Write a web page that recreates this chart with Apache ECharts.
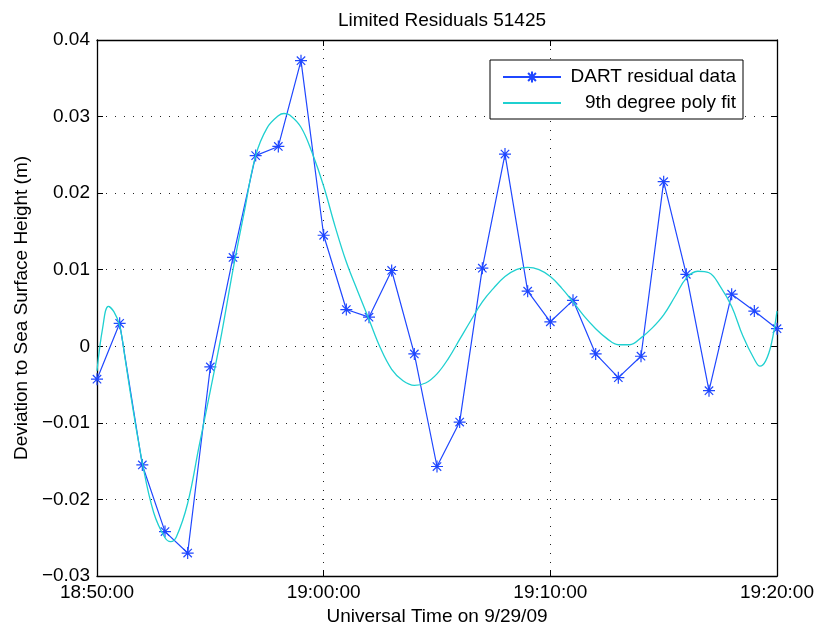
<!DOCTYPE html>
<html>
<head>
<meta charset="utf-8">
<title>Limited Residuals 51425</title>
<script src="https://cdn.jsdelivr.net/npm/echarts@6/dist/echarts.min.js"></script>
<style>
  html, body { margin: 0; padding: 0; background: #fff; }
  #chart { width: 815px; height: 628px; }
</style>
</head>
<body>
<div id="chart"></div>
<script>
// DART buoy 51425 residuals (m), one reading per minute, 29 Sep 2009 UTC
const dartTimes = [
  '18:50','18:51','18:52','18:53','18:54','18:55','18:56','18:57','18:58','18:59',
  '19:00','19:01','19:02','19:03','19:04','19:05','19:06','19:07','19:08','19:09',
  '19:10','19:11','19:12','19:13','19:14','19:15','19:16','19:17','19:18','19:19',
  '19:20'
];
const dartResiduals = [
  -0.0043, 0.0030, -0.0155, -0.0242, -0.0270, -0.0027, 0.0116, 0.0249, 0.0261, 0.0373,
   0.0145, 0.0048, 0.0038, 0.0099, -0.0010, -0.0157, -0.0099, 0.0102, 0.0251, 0.0072,
   0.0032, 0.0060, -0.0010, -0.0041, -0.0013, 0.0215, 0.0094, -0.0058, 0.0068, 0.0046,
   0.0023
];

// 9th degree polynomial fit, sampled in minutes after 18:50
const fitMinutes = [
  0, 0.25, 0.5, 0.75, 1, 1.25, 1.5, 2, 2.5, 3, 3.25, 3.5,
  4, 4.5, 5, 5.5, 6, 6.5, 7, 7.5, 8, 8.25, 8.5,
  9, 9.5, 10, 10.5, 11, 11.5, 12, 12.5, 13, 13.5, 14, 14.5,
  15, 15.5, 16, 16.5, 17, 17.5, 18, 18.5, 19, 19.5, 20, 20.5,
  21, 21.5, 22, 22.5, 23, 23.5, 24, 24.5, 25, 25.5, 26, 26.5,
  27, 27.5, 28, 28.5, 29, 29.25, 29.5, 29.75, 30
];
const fitValues = [
  -0.0032, 0.0024, 0.0052, 0.0045, 0.0027, -0.0018, -0.0066, -0.0152, -0.0217, -0.0250, -0.0255, -0.0249,
  -0.0205, -0.0131, -0.0058, 0.0017, 0.0100, 0.0176, 0.0249, 0.0285, 0.0301, 0.0304, 0.0302,
   0.0286, 0.0252, 0.0209, 0.0157, 0.0110, 0.0072, 0.0035, -0.0002, -0.0030, -0.0045, -0.0051, -0.0048,
  -0.0036, -0.0016, 0.0009, 0.0034, 0.0058, 0.0076, 0.0091, 0.0100, 0.0103, 0.0100, 0.0091, 0.0076,
   0.0058, 0.0039, 0.0023, 0.0010, 0.0002, 0.0002, 0.0011, 0.0024, 0.0041, 0.0065, 0.0089, 0.0098,
   0.0096, 0.0078, 0.0052, 0.0013, -0.0017, -0.0026, -0.0019, 0.0003, 0.0046
];

const xTickLabels = ['18:50:00', '19:00:00', '19:10:00', '19:20:00'];
const yTickLabels = ['\u22120.03', '\u22120.02', '\u22120.01', '0', '0.01', '0.02', '0.03', '0.04'];

const X_MIN = 0, X_MAX = 30, X_STEP = 10;
const Y_MIN = -0.03, Y_MAX = 0.04, Y_STEP = 0.01;
const FONT = '"Liberation Sans", Arial, Helvetica, sans-serif';
const BLUE = '#1f47ff';
const CYAN = '#1fd0d0';
const NONE = 'rgba(0,0,0,0)';

// minutes elapsed since the first reading
function minutesOf(hhmm) {
  const [h, m] = hhmm.split(':').map(Number);
  const [h0, m0] = dartTimes[0].split(':').map(Number);
  return (h * 60 + m) - (h0 * 60 + m0);
}

const dartData = dartTimes.map((t, i) => [minutesOf(t), dartResiduals[i]]);
const fitData = fitMinutes.map((m, i) => [m, fitValues[i]]);

// eight-spoke asterisk marker
const asterisk = 'path://M0,6L12,6M6,0L6,12M1.8,1.8L10.2,10.2M10.2,1.8L1.8,10.2';

const dotted = { color: '#222', type: [1, 8], width: 1 };
const frameLine = { show: true, onZero: false, lineStyle: { color: '#000', width: 1.3 } };
const innerTick = { show: true, inside: true, length: 6, lineStyle: { color: '#000', width: 1 } };

const chart = echarts.init(document.getElementById('chart'), null, { renderer: 'canvas' });

chart.setOption({
  animation: false,
  backgroundColor: '#fff',
  textStyle: { fontFamily: FONT },
  title: {
    text: 'Limited Residuals 51425',
    left: 437,
    top: 6,
    textAlign: 'center',
    textStyle: { fontSize: 19, fontWeight: 'normal', color: '#000', fontFamily: FONT }
  },
  grid: {
    left: 97, right: 38, top: 40, bottom: 52,
    containLabel: false,
    outerBoundsMode: 'none'
  },
  legend: {
    left: 490,
    top: 60,
    orient: 'vertical',
    padding: [7, 7, 6, 12],
    itemGap: 6,
    itemWidth: 58,
    itemHeight: 14,
    borderColor: '#000',
    borderWidth: 1,
    borderRadius: 0,
    backgroundColor: '#fff',
    selectedMode: false,
    formatter: name => '{t|' + name + '}',
    textStyle: {
      fontSize: 19, color: '#000', fontFamily: FONT, lineHeight: 20,
      rich: { t: { width: 170, align: 'right', fontSize: 19, lineHeight: 20, fontFamily: FONT, color: '#000' } }
    },
    data: [
      { name: 'DART residual data' },
      // the fit is a plain line: hide the marker in its legend entry
      { name: '9th degree poly fit', itemStyle: { color: NONE, borderColor: NONE, borderWidth: 0 } }
    ]
  },
  xAxis: [
    {
      type: 'value', min: X_MIN, max: X_MAX, interval: X_STEP, position: 'bottom',
      axisLine: frameLine, axisTick: innerTick,
      axisLabel: {
        margin: 7, fontSize: 19, color: '#000', fontFamily: FONT,
        formatter: v => xTickLabels[Math.round((v - X_MIN) / X_STEP)]
      },
      splitLine: { show: true, lineStyle: dotted },
      name: 'Universal Time on 9/29/09',
      nameLocation: 'middle',
      nameGap: 30,
      nameTextStyle: { fontSize: 19, color: '#000', fontFamily: FONT }
    },
    {
      type: 'value', min: X_MIN, max: X_MAX, interval: X_STEP, position: 'top',
      axisLine: frameLine, axisTick: innerTick,
      axisLabel: { show: false }, splitLine: { show: false }
    }
  ],
  yAxis: [
    {
      type: 'value', min: Y_MIN, max: Y_MAX, interval: Y_STEP, position: 'left',
      axisLine: frameLine, axisTick: innerTick,
      axisLabel: {
        margin: 7, fontSize: 19, color: '#000', fontFamily: FONT,
        formatter: v => yTickLabels[Math.round((v - Y_MIN) / Y_STEP)]
      },
      splitLine: { show: true, lineStyle: dotted },
      name: 'Deviation to Sea Surface Height (m)',
      nameLocation: 'middle',
      nameGap: 62,
      nameTextStyle: { fontSize: 19, color: '#000', fontFamily: FONT }
    },
    {
      type: 'value', min: Y_MIN, max: Y_MAX, interval: Y_STEP, position: 'right',
      axisLine: frameLine, axisTick: innerTick,
      axisLabel: { show: false }, splitLine: { show: false }
    }
  ],
  series: [
    {
      name: 'DART residual data',
      type: 'line',
      xAxisIndex: 0, yAxisIndex: 0,
      data: dartData,
      symbol: asterisk,
      symbolSize: 12,
      showAllSymbol: true,
      lineStyle: { color: BLUE, width: 1.2 },
      itemStyle: { color: BLUE, borderColor: BLUE, borderWidth: 1.2 },
      emphasis: { disabled: true },
      z: 3
    },
    {
      name: '9th degree poly fit',
      type: 'line',
      xAxisIndex: 0, yAxisIndex: 0,
      data: fitData,
      smooth: 0.4,
      symbol: 'none',
      showSymbol: false,
      lineStyle: { color: CYAN, width: 1.3 },
      itemStyle: { color: CYAN },
      emphasis: { disabled: true },
      z: 4
    }
  ]
});
</script>
</body>
</html>
